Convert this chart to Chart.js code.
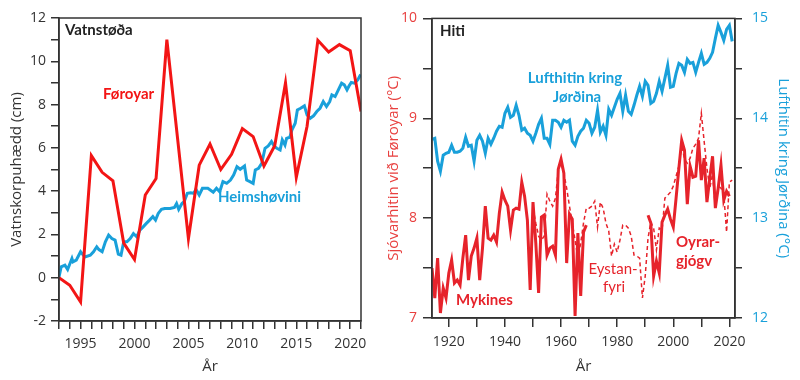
<!DOCTYPE html>
<html>
<head>
<meta charset="utf-8">
<script src="https://cdn.jsdelivr.net/npm/chart.js@4.4.1/dist/chart.umd.min.js"></script>
<style>
  html, body { margin: 0; padding: 0; background: #fff; }
  #wrap { position: relative; width: 800px; height: 380px; overflow: hidden; }
  canvas { position: absolute; top: 0; }
  #left { left: 0; }
  #right { left: 370px; }
</style>
</head>
<body>
<div id="wrap">
  <canvas id="left" width="400" height="380"></canvas>
  <canvas id="right" width="430" height="380"></canvas>
</div>
<script>
// ---- left panel: Vatnstøða (cm) ----
const faroeStart = 1993;
const faroeCm = [0.0, -0.35, -1.12, 5.64, 4.87, 4.48, 1.6, 0.84, 3.82, 4.58,
  11.0, 6.4, 1.81, 5.2, 6.18, 5.0, 5.7, 6.89, 6.52, 5.16,
  6.1, 9.0, 4.64, 7.0, 10.97, 10.43, 10.77, 10.49, 7.68];

const seaYears = [1993.0, 1993.2, 1993.55, 1993.8, 1994.2, 1994.3, 1994.6, 1995.0, 1995.4, 1995.9,
  1996.2, 1996.5, 1996.7, 1997.0, 1997.3, 1997.6, 1997.9, 1998.2, 1998.5, 1998.75,
  1999.0, 1999.3, 1999.6, 1999.9, 2000.2, 2000.5, 2000.8, 2001.1, 2001.4, 2001.7,
  2001.95, 2002.2, 2002.5, 2002.8, 2003.3, 2003.7, 2003.9, 2004.1, 2004.4, 2004.6,
  2004.9, 2005.2, 2005.5, 2005.7, 2006.0, 2006.3, 2006.8, 2007.3, 2007.6, 2007.9,
  2008.2, 2008.55, 2008.9, 2009.2, 2009.5, 2009.8, 2010.2, 2010.4, 2010.7, 2011.0,
  2011.2, 2011.5, 2011.8, 2012.1, 2012.4, 2012.7, 2012.97, 2013.2, 2013.5, 2013.7,
  2013.95, 2014.1, 2014.4, 2014.6, 2014.9, 2015.1, 2015.4, 2015.75, 2016.0, 2016.3,
  2016.6, 2016.9, 2017.2, 2017.5, 2017.8, 2018.1, 2018.3, 2018.6, 2018.9, 2019.2,
  2019.45, 2019.7, 2019.9, 2020.1, 2020.4, 2020.7, 2020.9, 2021.0];
const seaCm = [0.04, 0.5, 0.58, 0.38, 0.89, 0.73, 0.81, 1.2, 0.96, 1.04,
  1.2, 1.43, 1.3, 1.2, 1.66, 1.97, 1.81, 1.74, 1.09, 1.04,
  1.66, 1.66, 1.81, 2.04, 1.89, 2.2, 2.35, 2.51, 2.66, 2.82,
  2.66, 2.97, 3.16, 3.2, 3.2, 3.25, 3.43, 3.16, 3.43, 3.51,
  3.9, 3.93, 3.9, 4.08, 3.82, 4.13, 4.13, 3.95, 4.13, 3.97,
  4.44, 4.36, 4.51, 4.75, 5.13, 5.01, 5.16, 4.51, 4.44, 4.36,
  4.98, 5.05, 5.29, 5.98, 6.09, 6.29, 6.06, 5.98, 5.9, 6.37,
  6.13, 6.44, 6.49, 6.83, 7.14, 7.75, 7.83, 7.94, 7.52, 7.37,
  7.48, 7.68, 7.83, 8.14, 7.91, 8.14, 8.45, 8.37, 8.68, 8.99,
  8.91, 8.68, 8.87, 9.02, 8.99, 9.14, 9.33, 9.3];

// ---- right panel: Hiti (°C) ----
const globalStart = 1914;
const globalC = [13.79, 13.80, 13.57, 13.47, 13.63, 13.65, 13.66, 13.73, 13.66, 13.66,
  13.67, 13.70, 13.81, 13.72, 13.73, 13.57, 13.78, 13.83, 13.77, 13.65,
  13.80, 13.74, 13.80, 13.87, 13.92, 13.91, 14.05, 14.11, 14.01, 14.03,
  14.13, 14.03, 13.88, 13.90, 13.85, 13.83, 13.77, 13.85, 13.94, 14.00,
  13.80, 13.80, 13.74, 13.98, 13.98, 13.96, 13.91, 13.98, 13.96, 13.98,
  13.77, 13.73, 13.82, 13.87, 13.90, 13.98, 13.95, 13.85, 13.91, 14.08,
  13.86, 13.92, 13.83, 14.09, 14.03, 14.11, 14.19, 14.25, 14.07, 14.23,
  14.07, 14.04, 14.13, 14.23, 14.32, 14.22, 14.37, 14.33, 14.15, 14.17,
  14.25, 14.37, 14.27, 14.40, 14.53, 14.31, 14.32, 14.45, 14.55, 14.53,
  14.46, 14.59, 14.55, 14.56, 14.46, 14.56, 14.65, 14.54, 14.56, 14.60,
  14.66, 14.80, 14.93, 14.86, 14.78, 14.89, 14.93, 14.77];

const mykinesStart = 1914;
const mykinesC = [7.5, 7.2, 7.6, 7.05, 7.3, 7.2, 7.45, 7.58, 7.35, 7.38,
  7.33, 7.6, 7.83, 7.38, 7.62, 7.7, 7.8, 7.38, 7.7, 8.12,
  7.8, 7.78, 7.83, 7.76, 8.05, 8.26, 8.18, 8.12, 7.88, 8.08,
  8.1, 8.09, 8.36, 8.22, 7.98, 7.28, 8.16, 7.75, 7.25, 8.01,
  8.03, 7.63, 7.7, 7.72, 7.63, 8.49, 8.59, 8.45, 7.55, 8.04,
  7.99, 7.02, 7.85, 7.22, 7.86, 7.93];

const oyrarStart = 1991;
const oyrarC = [8.03, 7.95, 7.42, 7.57, 7.45, 7.96, 8.03, 8.09, 7.99, 7.91,
  8.2, 8.5, 8.78, 8.68, 8.14, 8.52, 8.41, 8.42, 8.78, 8.38,
  8.6, 8.16, 8.4, 8.62, 8.1, 8.3, 8.53, 8.18, 8.27, 8.22];

const eystanStart = 1950;
const eystanC = [8.1, 7.95, 7.82, 7.78, 7.82, 8.24, 8.17, 8.12, 8.2, 8.48,
  8.55, 8.45, 8.3, 8.12, 7.95, 7.78, 7.6, 7.75, 7.95, 8.1,
  8.1, 8.12, 8.17, 7.91, 8.16, 8.1, 7.95, 7.87, 7.62, 7.74,
  7.66, 7.78, 7.93, 7.93, 7.9, 7.82, 7.63, 7.62, 7.6, 7.2,
  7.42, 7.8, 7.96, 7.9, 7.68, 7.9, 7.88, 8.2, 8.23, 8.26,
  8.32, 8.42, 8.52, 8.74, 8.59, 8.55, 8.6, 8.7, 8.74, 8.8,
  9.05, 8.77, 8.5, 8.3, 8.44, 8.1, 8.32, 8.3, 8.24, 7.86,
  8.36, 8.38];

const RED = '#f31515';
const RED2 = '#e6232b';
const BLUE = '#19a0da';
const INK = '#333';

Chart.defaults.font.family = "'Open Sans', sans-serif";
Chart.defaults.font.size = 14;

function pts(start, vals) {
  return vals.map((v, i) => ({ x: start + i, y: v }));
}
function ptsXY(xs, ys) {
  return xs.map((x, i) => ({ x: x, y: ys[i] }));
}

const frame = {
  id: 'frame',
  afterDatasetsDraw(chart) {
    const { ctx, chartArea: a } = chart;
    ctx.save();
    ctx.strokeStyle = INK;
    ctx.lineWidth = 1.5;
    ctx.strokeRect(a.left, a.top, a.right - a.left, a.bottom - a.top);
    ctx.restore();
  }
};

const notes = {
  id: 'notes',
  afterDraw(chart, args, opts) {
    const ctx = chart.ctx;
    (opts.items || []).forEach(n => {
      ctx.save();
      ctx.font = (n.bold ? 'bold ' : '') + '15px Lato';
      ctx.fillStyle = n.color;
      ctx.textAlign = n.align || 'left';
      ctx.textBaseline = 'middle';
      ctx.fillText(n.text, n.x, n.y);
      ctx.restore();
    });
  }
};

function gridOpts(len) {
  return { drawOnChartArea: false, drawTicks: true, tickLength: len, color: INK, lineWidth: 1.5 };
}
const borderOpts = { display: true, color: INK, width: 1.5 };

new Chart(document.getElementById('left'), {
  type: 'line',
  data: {
    datasets: [
      { label: 'Føroyar', data: pts(faroeStart, faroeCm), borderColor: RED, borderWidth: 3 },
      { label: 'Heimshøvini', data: ptsXY(seaYears, seaCm), borderColor: BLUE, borderWidth: 3 }
    ]
  },
  options: {
    responsive: false,
    animation: false,
    layout: { padding: { top: 18, right: 39, left: 0, bottom: 0 } },
    elements: { point: { radius: 0 }, line: { tension: 0, fill: false } },
    plugins: {
      legend: { display: false },
      tooltip: { enabled: false },
      notes: {
        items: [
          { text: 'Vatnstøða', x: 65, y: 30, color: '#222', bold: true },
          { text: 'Føroyar', x: 103, y: 94, color: RED, bold: true },
          { text: 'Heimshøvini', x: 218, y: 197, color: BLUE, bold: true }
        ]
      }
    },
    scales: {
      x: {
        type: 'linear', min: 1993, max: 2021,
        afterFit(s) { s.height = 59; },
        border: borderOpts,
        grid: gridOpts(8),
        ticks: {
          stepSize: 1, autoSkip: false, maxRotation: 0, includeBounds: false,
          padding: 7, color: INK,
          callback: v => (v % 5 === 0 ? String(v) : '')
        },
        title: { display: true, text: 'År', color: INK, font: { size: 15 }, padding: { top: 0, bottom: 4 } }
      },
      y: {
        min: -2, max: 12,
        afterFit(s) { s.width = 59; },
        border: borderOpts,
        grid: gridOpts(8),
        ticks: {
          stepSize: 1, autoSkip: false, includeBounds: false, padding: 5, color: INK,
          callback: v => (v % 2 === 0 ? String(v) : '')
        },
        title: { display: true, text: 'Vatnskorpuhædd (cm)', color: INK, font: { size: 15 }, padding: { top: 8, bottom: 0 } }
      }
    }
  },
  plugins: [frame, notes]
});

new Chart(document.getElementById('right'), {
  type: 'line',
  data: {
    datasets: [
      { label: 'Mykines', data: pts(mykinesStart, mykinesC), borderColor: RED2, borderWidth: 3, yAxisID: 'y' },
      { label: 'Oyrargjógv', data: pts(oyrarStart, oyrarC), borderColor: RED2, borderWidth: 3, yAxisID: 'y' },
      { label: 'Eystanfyri', data: pts(eystanStart, eystanC), borderColor: RED2, borderWidth: 1.5, borderDash: [4, 3], yAxisID: 'y' },
      { label: 'Lufthitin kring Jørðina', data: pts(globalStart, globalC), borderColor: BLUE, borderWidth: 3, yAxisID: 'y1' }
    ]
  },
  options: {
    responsive: false,
    animation: false,
    layout: { padding: { top: 16, right: 0, left: 0, bottom: 0 } },
    elements: { point: { radius: 0 }, line: { tension: 0, fill: false } },
    plugins: {
      legend: { display: false },
      tooltip: { enabled: false },
      notes: {
        items: [
          { text: 'Hiti', x: 70, y: 31, color: '#222', bold: true },
          { text: 'Lufthitin kring', x: 205, y: 78, color: BLUE, bold: true, align: 'center' },
          { text: 'Jørðina', x: 207, y: 97, color: BLUE, bold: true, align: 'center' },
          { text: 'Mykines', x: 86, y: 300, color: RED2, bold: true },
          { text: 'Eystan-', x: 243, y: 269, color: RED2, bold: false, align: 'center' },
          { text: 'fyri', x: 244, y: 287, color: RED2, bold: false, align: 'center' },
          { text: 'Oyrar-', x: 306, y: 242, color: RED2, bold: true },
          { text: 'gjógv', x: 306, y: 261, color: RED2, bold: true }
        ]
      }
    },
    scales: {
      x: {
        type: 'linear', min: 1914, max: 2022,
        afterFit(s) { s.height = 62; },
        border: borderOpts,
        grid: gridOpts(9),
        ticks: {
          stepSize: 10, autoSkip: false, maxRotation: 0, includeBounds: false,
          padding: 7, color: INK,
          callback: v => (v % 20 === 0 ? String(v) : '')
        },
        title: { display: true, text: 'År', color: INK, font: { size: 15 }, padding: { top: 0, bottom: 4 } }
      },
      y: {
        position: 'left', min: 7, max: 10,
        afterFit(s) { s.width = 62; },
        border: borderOpts,
        grid: gridOpts(9),
        ticks: {
          stepSize: 0.5, autoSkip: false, includeBounds: false, padding: 6, color: '#e8403f',
          callback: v => (Number.isInteger(v) ? String(v) : '')
        },
        title: { display: true, text: 'Sjóvarhitin við Føroyar (°C)', color: '#e8403f', font: { size: 15 }, padding: { top: 15, bottom: 0 } }
      },
      y1: {
        position: 'right', min: 12, max: 15,
        afterFit(s) { s.width = 65; },
        border: borderOpts,
        grid: gridOpts(7),
        ticks: {
          stepSize: 0.5, autoSkip: false, includeBounds: false, padding: 10, color: BLUE,
          callback: v => (Number.isInteger(v) ? String(v) : '')
        },
        title: { display: true, text: 'Lufthitin kring Jørðina (°C)', color: BLUE, font: { size: 15 }, padding: { top: 8, bottom: 0 } }
      }
    }
  },
  plugins: [frame, notes]
});
</script>
</body>
</html>
